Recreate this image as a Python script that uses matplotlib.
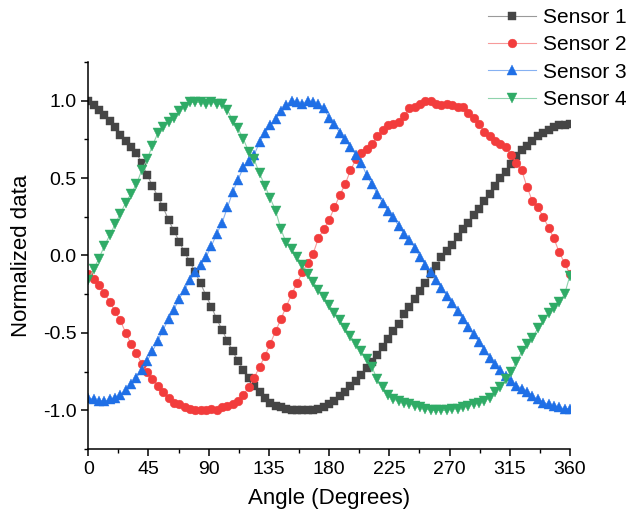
import matplotlib
matplotlib.use("Agg")
import matplotlib.pyplot as plt
from matplotlib.ticker import MultipleLocator

plt.rcParams['font.family'] = ['Liberation Sans', 'DejaVu Sans']

# angles sampled every 4 degrees
angle = list(range(0, 361, 4))

sensor1 = [1.00, 0.97, 0.94, 0.91, 0.87, 0.83, 0.78, 0.74, 0.70, 0.66,
           0.60, 0.52, 0.45, 0.38, 0.31, 0.23, 0.16, 0.09, 0.02, -0.04,
           -0.11, -0.18, -0.26, -0.33, -0.41, -0.48, -0.55, -0.62, -0.68, -0.74,
           -0.79, -0.84, -0.88, -0.92, -0.95, -0.97, -0.98, -0.99, -1.00, -1.00,
           -1.00, -1.00, -1.00, -0.99, -0.98, -0.96, -0.94, -0.91, -0.88, -0.84,
           -0.81, -0.77, -0.73, -0.69, -0.64, -0.59, -0.54, -0.49, -0.44, -0.38,
           -0.33, -0.28, -0.23, -0.18, -0.12, -0.07, -0.01, 0.03, 0.07, 0.12,
           0.17, 0.21, 0.26, 0.30, 0.35, 0.40, 0.45, 0.50, 0.54, 0.59,
           0.64, 0.68, 0.71, 0.74, 0.77, 0.79, 0.81, 0.83, 0.84, 0.84,
           0.85]

sensor2 = [-0.12, -0.15, -0.19, -0.24, -0.30, -0.36, -0.42, -0.50, -0.57, -0.63,
           -0.70, -0.75, -0.80, -0.84, -0.88, -0.92, -0.95, -0.96, -0.98, -0.99,
           -1.00, -1.00, -1.00, -0.99, -1.00, -0.98, -0.97, -0.96, -0.94, -0.90,
           -0.85, -0.79, -0.72, -0.65, -0.57, -0.49, -0.41, -0.33, -0.25, -0.18,
           -0.11, -0.05, 0.01, 0.11, 0.17, 0.23, 0.31, 0.39, 0.46, 0.55,
           0.62, 0.66, 0.69, 0.72, 0.77, 0.81, 0.84, 0.85, 0.86, 0.90,
           0.95, 0.96, 0.98, 1.00, 1.00, 0.98, 0.97, 0.98, 0.97, 0.96,
           0.96, 0.92, 0.89, 0.85, 0.80, 0.77, 0.74, 0.72, 0.70, 0.65,
           0.60, 0.55, 0.44, 0.35, 0.31, 0.25, 0.18, 0.11, 0.02, -0.05,
           -0.12]

sensor3 = [-0.92, -0.93, -0.94, -0.94, -0.93, -0.92, -0.90, -0.87, -0.83, -0.79,
           -0.74, -0.68, -0.62, -0.55, -0.48, -0.41, -0.35, -0.28, -0.22, -0.16,
           -0.11, -0.06, -0.01, 0.06, 0.14, 0.21, 0.31, 0.41, 0.49, 0.57,
           0.61, 0.65, 0.73, 0.79, 0.84, 0.88, 0.93, 0.97, 1.00, 0.99,
           0.98, 1.00, 0.99, 0.98, 0.95, 0.89, 0.85, 0.79, 0.75, 0.70,
           0.65, 0.60, 0.52, 0.46, 0.40, 0.34, 0.29, 0.25, 0.19, 0.14,
           0.10, 0.05, -0.01, -0.06, -0.11, -0.16, -0.21, -0.26, -0.31, -0.36,
           -0.41, -0.46, -0.51, -0.56, -0.61, -0.66, -0.70, -0.74, -0.78, -0.81,
           -0.84, -0.86, -0.88, -0.91, -0.93, -0.95, -0.96, -0.97, -0.98, -0.99,
           -0.99]

sensor4 = [-0.16, -0.09, -0.02, 0.06, 0.13, 0.20, 0.27, 0.34, 0.40, 0.46,
           0.55, 0.62, 0.71, 0.79, 0.83, 0.86, 0.89, 0.93, 0.96, 0.99,
           0.99, 0.99, 0.98, 0.99, 0.98, 0.98, 0.94, 0.87, 0.82, 0.75,
           0.67, 0.62, 0.53, 0.45, 0.37, 0.29, 0.17, 0.08, 0.04, -0.01,
           -0.06, -0.12, -0.17, -0.22, -0.27, -0.32, -0.37, -0.42, -0.47, -0.52,
           -0.57, -0.62, -0.67, -0.72, -0.80, -0.85, -0.90, -0.93, -0.94, -0.95,
           -0.96, -0.97, -0.98, -0.99, -1.00, -1.00, -1.00, -1.00, -0.99, -0.99,
           -0.98, -0.97, -0.96, -0.95, -0.94, -0.92, -0.88, -0.85, -0.80, -0.75,
           -0.69, -0.62, -0.57, -0.53, -0.47, -0.42, -0.37, -0.34, -0.30, -0.25,
           -0.13]

labels = ['Sensor 1', 'Sensor 2', 'Sensor 3', 'Sensor 4']
markers = ['s', 'o', '^', 'v']
msizes = [6, 6.3, 7, 7]
mcolors = ['#454545', '#f23c3c', '#1f6fe6', '#2fab66']
lcolors = ['#9a9a9a', '#f79a9a', '#86b1f2', '#8fd3ac']

fig = plt.figure(figsize=(6.44, 5.2), dpi=100)
ax = fig.add_axes([0.137, 0.1365, 0.748, 0.7445])

for ys, lab, mk, ms, mc, lc in zip([sensor1, sensor2, sensor3, sensor4], labels, markers, msizes, mcolors, lcolors):
    ax.plot(angle, ys, color=lc, lw=0.8, marker=mk, markersize=ms,
            markerfacecolor=mc, markeredgecolor=mc, markeredgewidth=0.3, label=lab)

ax.set_xlim(0, 360)
ax.set_ylim(-1.25, 1.25)
ax.xaxis.set_major_locator(MultipleLocator(45))
ax.xaxis.set_minor_locator(MultipleLocator(22.5))
ax.yaxis.set_minor_locator(MultipleLocator(0.25))
ax.set_yticks([-1.0, -0.5, 0.0, 0.5, 1.0])
ax.set_yticklabels(['-1.0', '-0.5', '0.0', '0.5', '1.0'])

for s in ['top', 'right']:
    ax.spines[s].set_visible(False)
for s in ['left', 'bottom']:
    ax.spines[s].set_linewidth(1.1)
ax.tick_params(which='major', direction='out', length=5, width=1.1, labelsize=14)
ax.tick_params(which='minor', direction='out', length=3, width=1.0)

ax.set_xlabel('Angle (Degrees)', fontsize=16, labelpad=7)
ax.set_ylabel('Normalized data', fontsize=16, labelpad=8)

fig.legend(loc='upper left', bbox_to_anchor=(488 / 644, 1 - 8 / 520), frameon=False,
           fontsize=15, handlelength=2.3, handletextpad=0.35, labelspacing=0.4,
           borderpad=0, borderaxespad=0)

fig.savefig('out.png', dpi=100)
